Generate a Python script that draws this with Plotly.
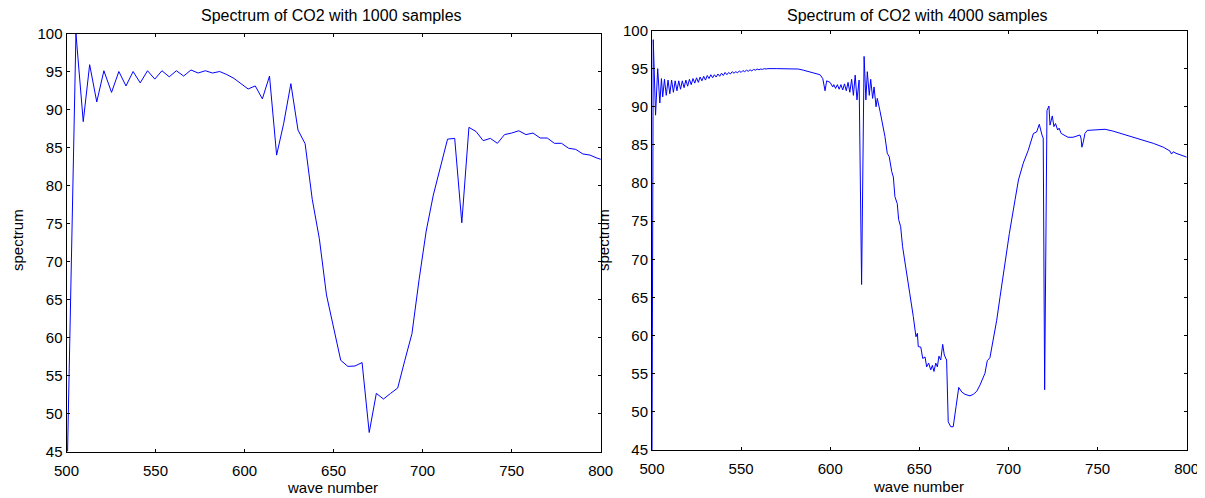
import plotly.graph_objects as go

# 1000 samples spectrum (left)
wn_1000 = [500.6, 505.3, 509.4, 513.0, 517.0, 521.0, 525.3, 529.4, 533.4, 537.4,
           541.4, 545.5, 549.6, 553.6, 557.7, 561.7, 565.8, 569.9, 573.9, 578.0,
           582.0, 586.0, 590.0, 594.0, 598.0, 602.0, 606.0, 610.0, 614.0, 618.0,
           622.0, 626.0, 630.0, 634.0, 638.0, 642.0, 646.0, 650.0, 654.0, 658.0,
           662.0, 666.0, 670.0, 674.0, 678.0, 682.0, 686.0, 690.0, 694.0, 698.0,
           702.0, 706.0, 710.0, 714.0, 718.0, 722.0, 726.0, 730.0, 734.0, 738.0,
           742.0, 746.0, 750.0, 754.0, 758.0, 762.0, 766.0, 770.0, 774.0, 778.0,
           782.0, 786.0, 790.0, 794.0, 798.0, 802.0]
spec_1000 = [45.0, 100.0, 88.4, 95.9, 91.0, 95.1, 92.25, 95.0, 93.1, 95.0,
             93.5, 95.1, 94.0, 95.1, 94.3, 95.1, 94.4, 95.2, 94.8, 95.1,
             94.8, 95.0, 94.6, 94.1, 93.4, 92.7, 93.1, 91.4, 94.4, 84.0,
             88.2, 93.4, 87.3, 85.5, 78.2, 73.0, 65.6, 61.4, 57.0, 56.2,
             56.25, 56.7, 47.5, 52.65, 51.9, 52.65, 53.35, 57.0, 60.5, 67.6,
             74.0, 78.75, 82.5, 86.1, 86.2, 75.1, 87.65, 87.1, 85.9, 86.2,
             85.55, 86.7, 86.9, 87.2, 86.7, 86.9, 86.25, 86.25, 85.55, 85.55,
             84.9, 84.75, 84.15, 84.0, 83.6, 83.3]

# 4000 samples spectrum (right)
wn_4000 = [500.0, 500.7, 502.0, 503.2, 504.4, 505.3,
           506, 507, 508, 509, 510, 511, 512, 513, 514, 515, 516, 517, 518, 519,
           520, 521, 522, 523, 524, 525, 526, 527, 528, 529, 530, 531, 532, 533,
           534, 535, 536, 537, 538, 539, 540, 541, 542, 543, 544, 545, 546, 547,
           548, 549, 550, 551, 552, 553, 554, 555, 556, 557, 558, 559, 560, 561,
           562, 563, 564, 565, 570, 575, 580, 582.0, 584.9, 590.5, 594.3, 595.8,
           597.1, 598.0, 599.9, 601.4,
           602, 603, 604, 605, 606, 607, 608, 609, 610, 611, 612, 613, 614, 615,
           616.2, 617.6, 619.0, 620.0, 620.8, 621.9, 622.7, 623.8, 624.6, 625.7,
           626.4, 628.0, 629.0, 630.7, 632.0, 633.1, 634.5, 635.4, 636.3, 637.6,
           638.4, 639.5, 640.6, 642.4, 644.6, 646.6, 648.1, 648.9, 649.4, 650.8,
           651.9, 653.2, 654.1, 655.2, 656.4, 657.3, 658.2, 659.2, 660.1, 661.0,
           662.0, 663.1, 664.0, 665.3, 666.2, 667.6, 669.0, 670.6, 672.1, 673.8,
           675.6, 678.4, 680.3, 682.2, 684.0, 686.8, 688.1, 689.6, 691.5, 693.4,
           695.3, 697.1, 699.0, 700.5, 703.7, 705.6, 708.3, 711.1, 714.0, 715.8,
           717.3, 718.0, 718.8, 719.5, 720.3, 721.6, 722.7, 723.3, 724.6, 725.5,
           726.4, 727.6, 728.4, 729.6, 731.5, 733.4, 736.2, 739.2, 740.1, 740.7,
           741.2, 742.0, 742.9, 744.2, 746.7, 749.5, 754.2, 758.8, 764.4, 770.0,
           775.7, 781.3, 786.9, 790.6, 791.5, 792.5, 794.0, 797.0, 800.0]
spec_4000 = [44.0, 98.8, 88.9, 95.0, 90.5, 93.7,
             91.3, 93.6, 91.5, 93.5, 91.7, 93.5, 91.9, 93.4, 92.1, 93.4, 92.3, 93.4, 92.5, 93.5,
             92.7, 93.6, 92.9, 93.7, 93.1, 93.8, 93.2, 93.9, 93.4, 94.0, 93.5, 94.1, 93.7, 94.2,
             93.8, 94.2, 93.9, 94.3, 94.0, 94.4, 94.1, 94.5, 94.2, 94.5, 94.3, 94.6, 94.4, 94.6,
             94.45, 94.7, 94.5, 94.75, 94.6, 94.8, 94.65, 94.85, 94.7, 94.9, 94.8, 94.95, 94.85, 94.95,
             94.9, 95.0, 94.95, 95.0, 95.0, 95.0, 95.0, 94.95, 94.8, 94.5, 94.2, 93.7,
             92.1, 93.4, 93.2, 92.6,
             92.9, 92.4, 92.9, 92.3, 92.9, 92.2, 93.0, 92.1, 93.2, 91.9, 93.6, 91.5, 94.15, 90.9,
             93.5, 66.7, 96.6, 90.9, 94.6, 91.5, 93.6, 91.1, 92.6, 90.0,
             91.1, 89.35, 88.3, 86.1, 83.9, 83.45, 81.5, 80.8, 78.2, 77.3,
             75.2, 74.3, 71.65, 68.6, 65.55, 62.5, 59.85, 60.3, 58.55, 58.5,
             57.0, 57.2, 55.9, 56.4, 55.5, 56.1, 55.3, 56.4, 55.9, 57.3,
             56.8, 58.85, 57.45, 56.8, 48.7, 48.05, 48.05, 50.7, 53.2, 52.6,
             52.3, 52.1, 52.3, 52.7, 53.5, 55.05, 56.7, 57.1, 59.4, 62.0,
             65.1, 68.2, 71.2, 73.4, 77.8, 80.4, 82.6, 84.3, 86.5, 86.7,
             87.7, 86.9, 86.3, 85.9, 52.9, 89.5, 90.1, 87.6, 88.8, 87.4,
             87.8, 86.95, 87.2, 86.5, 86.3, 86.0, 86.0, 86.2, 86.3, 85.9,
             84.7, 85.4, 86.5, 86.9, 86.95, 87.05, 87.05, 86.8, 86.4, 86.1,
             85.65, 85.2, 84.7, 84.2, 83.8, 84.1, 83.9, 83.6, 83.4]

x_ticks = [500, 550, 600, 650, 700, 750, 800]
y_ticks = [45, 50, 55, 60, 65, 70, 75, 80, 85, 90, 95, 100]

# page body has an 8px margin, so the figure starts at (8, 8) in the window
OFF = 8
W, H = 1205 - OFF, 498 - OFF
FONT = "Liberation Sans, Arial, sans-serif"

fig = go.Figure()
fig.add_trace(go.Scatter(x=wn_1000, y=spec_1000, mode="lines",
                         line=dict(color="#0000ff", width=1), xaxis="x", yaxis="y"))
fig.add_trace(go.Scatter(x=wn_4000, y=spec_4000, mode="lines",
                         line=dict(color="#0000ff", width=1), xaxis="x2", yaxis="y2"))

axis_style = dict(showgrid=False, zeroline=False, showline=True, linecolor="black",
                  linewidth=1, mirror="ticks", ticks="inside", ticklen=3, automargin=False,
                  tickcolor="black", tickfont=dict(family=FONT, size=15, color="black"))

# subplot boxes in window pixels: (left, right, top, bottom)
boxes = [(66.5, 600.7, 33.5, 451.5), (652, 1186.7, 30.5, 450)]
for i, (l, r, t, b) in enumerate(boxes):
    sx = "" if i == 0 else "2"
    l, r, t, b = l - OFF, r - OFF, t - OFF, b - OFF
    fig.update_layout(**{
        "xaxis" + sx: dict(domain=[l / W, r / W], range=[500, 800], tickvals=x_ticks,
                           anchor="y" + sx, ticklabelstandoff=5, **axis_style),
        "yaxis" + sx: dict(domain=[1 - b / H, 1 - t / H], range=[45, 100], tickvals=y_ticks,
                           anchor="x" + sx, **axis_style),
    })

# (title, centre x, title y, y-label x, x-label y) in window pixels
titles = [("Spectrum of CO2 with 1000 samples", 331, 16, 17, 487),
          ("Spectrum of CO2 with 4000 samples", 917, 15.5, 603, 486)]
ann = []
for text, cx, cy, ylx, xly in titles:
    ann.append(dict(text=text, x=(cx - OFF) / W, y=1 - (cy - OFF) / H, xref="paper", yref="paper",
                    xanchor="center", yanchor="middle", showarrow=False,
                    font=dict(family=FONT, size=16, color="black")))
    ann.append(dict(text="wave number", x=(cx + 1 - OFF) / W, y=1 - (xly - OFF) / H,
                    xref="paper", yref="paper", xanchor="center", yanchor="middle",
                    showarrow=False, font=dict(family=FONT, size=15, color="black")))
    ann.append(dict(text="spectrum", x=(ylx - OFF) / W, y=1 - (240 - OFF) / H,
                    xref="paper", yref="paper", xanchor="center", yanchor="middle",
                    showarrow=False, textangle=-90,
                    font=dict(family=FONT, size=15, color="black")))

fig.update_layout(width=W, height=H, margin=dict(l=0, r=0, t=0, b=0, autoexpand=False),
                  paper_bgcolor="white", plot_bgcolor="white", showlegend=False,
                  annotations=ann)

fig.write_html("out.html")
